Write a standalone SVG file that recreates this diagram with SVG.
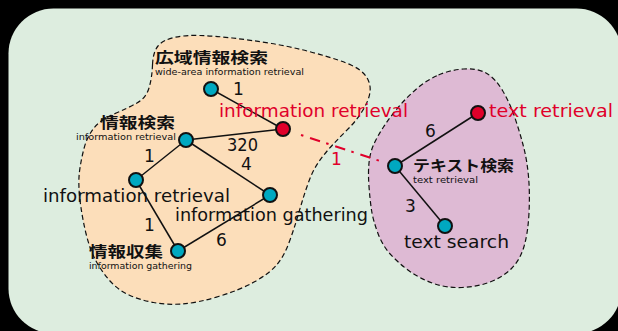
<svg xmlns="http://www.w3.org/2000/svg" width="618" height="331" viewBox="0 0 618 331">
<style>
.lat{font-family:"DejaVu Sans","Liberation Sans",sans-serif;fill:#111}
.big{font-size:17px}
.sm{font-size:9px}
.red{fill:#E0002A}
.jp{font-family:"Noto Sans CJK JP","Noto Sans CJK SC",sans-serif;font-weight:bold;font-size:15px;fill:#111}
.blob{stroke:#111;stroke-width:1.2;stroke-dasharray:5 3}
.edge{stroke:#111;stroke-width:1.5;fill:none}
.node{fill:#00A8C0;stroke:#111;stroke-width:2}
.rnode{fill:#E0002A;stroke:#111;stroke-width:2}
</style>
<rect x="0" y="0" width="618" height="331" fill="#000"/>
<rect x="8.5" y="8.5" width="613" height="325" rx="45" ry="45" fill="#DDEDDF"/>
<g id="cluster-info">
<path class="blob" fill="#FCDEBA" d="M152.5,65 Q153,52 158,46 Q163,40 174,37.5 Q185,35 200,35.5 Q215,36 232.5,38 Q250,40 271.5,43.5 Q293,47 316.5,53.5 Q340,60 351,65 Q362,70 366.5,77 Q371,84 370,92 Q369,100 363,110 Q357,120 348.5,128.5 Q340,137 332.5,145 Q325,153 319,161.5 Q313,170 309,181 Q305,192 302,202 Q299,212 296,222 Q293,232 288.5,244 Q284,256 277,264.5 Q270,273 255,281.5 Q240,290 218.5,296.5 Q197,303 182,304 Q167,305 153.5,302.5 Q140,300 129,295 Q118,290 110,281 Q102,272 96,261 Q90,250 86,233.5 Q82,217 80,200 Q78,183 79.5,171.5 Q81,160 84,148.5 Q87,137 93.5,128.5 Q100,120 114,114 Q128,108 137,103 Q146,98 149,88 Q152,78 152.5,65 Z"/>
</g>
<g id="cluster-text">
<path class="blob" fill="#DEBAD4" d="M438.5,75 Q450,70 463.5,69 Q477,68 486,73 Q495,78 502.5,90.5 Q510,103 515,118 Q520,133 523.5,146.5 Q527,160 528.5,176.5 Q530,193 529,213 Q528,233 524,246.5 Q520,260 511.5,268.5 Q503,277 490,282 Q477,287 462,287.5 Q447,288 435,284 Q423,280 413,273.5 Q403,267 393,257 Q383,247 378,233.5 Q373,220 371.5,210 Q370,200 369,186.5 Q368,173 369,163 Q370,153 373.5,145 Q377,137 383.5,127 Q390,117 398.5,107 Q407,97 417,88.5 Q427,80 438.5,75 Z"/>
</g>
<g id="connectors">
<line class="edge" x1="211" y1="89" x2="283" y2="129"/>
<line class="edge" x1="186" y1="140" x2="283" y2="129"/>
<line class="edge" x1="186" y1="140" x2="136" y2="180"/>
<line class="edge" x1="186" y1="140" x2="270" y2="195"/>
<line class="edge" x1="136" y1="180" x2="178" y2="251"/>
<line class="edge" x1="178" y1="251" x2="270" y2="195"/>
<line class="edge" x1="395" y1="166" x2="478" y2="113"/>
<line class="edge" x1="395" y1="166" x2="445" y2="226"/>
<line x1="297.2" y1="133.7" x2="381.8" y2="161.6" stroke="#E0002A" stroke-width="2" stroke-dasharray="2.5 7 10.5 6.5" stroke-dashoffset="22.5"/>
<text class="lat big" x="233" y="95">1</text>
<text class="lat big" x="227" y="151" textLength="31" lengthAdjust="spacingAndGlyphs">320</text>
<text class="lat big" x="241" y="170">4</text>
<text class="lat big" x="144" y="162">1</text>
<text class="lat big" x="144" y="231">1</text>
<text class="lat big" x="216" y="246">6</text>
<text class="lat big red" x="331" y="165">1</text>
<text class="lat big" x="425" y="137">6</text>
<text class="lat big" x="405" y="212">3</text>
</g>
<g id="n-wide">
<circle class="node" cx="211" cy="89" r="7"/>
<text class="jp" x="155" y="63" textLength="113" lengthAdjust="spacingAndGlyphs">広域情報検索</text>
<text class="lat sm" x="155" y="75" textLength="149" lengthAdjust="spacingAndGlyphs">wide-area information retrieval</text>
</g>
<g id="n-ir-red">
<circle class="rnode" cx="283" cy="129" r="7"/>
<text class="lat big red" x="219" y="117" textLength="189" lengthAdjust="spacingAndGlyphs">information retrieval</text>
</g>
<g id="n-jouhoukensaku">
<circle class="node" cx="186" cy="140" r="7"/>
<text class="jp" x="100" y="128" textLength="75" lengthAdjust="spacingAndGlyphs">情報検索</text>
<text class="lat sm" x="76" y="140" textLength="100" lengthAdjust="spacingAndGlyphs">information retrieval</text>
</g>
<g id="n-ir">
<circle class="node" cx="136" cy="180" r="7"/>
<text class="lat big" x="43" y="202" textLength="187" lengthAdjust="spacingAndGlyphs">information retrieval</text>
</g>
<g id="n-ig">
<circle class="node" cx="270" cy="195" r="7"/>
<text class="lat big" x="175" y="221" textLength="193" lengthAdjust="spacingAndGlyphs">information gathering</text>
</g>
<g id="n-jouhoushuushuu">
<circle class="node" cx="178" cy="251" r="7"/>
<text class="jp" x="89" y="257" textLength="74" lengthAdjust="spacingAndGlyphs">情報収集</text>
<text class="lat sm" x="89" y="269" textLength="103" lengthAdjust="spacingAndGlyphs">information gathering</text>
</g>
<g id="n-textkensaku">
<circle class="node" cx="395" cy="166" r="7"/>
<text class="jp" x="413" y="171" textLength="101" lengthAdjust="spacingAndGlyphs">テキスト検索</text>
<text class="lat sm" x="413" y="183" textLength="65" lengthAdjust="spacingAndGlyphs">text retrieval</text>
</g>
<g id="n-tr-red">
<circle class="rnode" cx="478" cy="113" r="7"/>
<text class="lat big red" x="489" y="117" textLength="124" lengthAdjust="spacingAndGlyphs">text retrieval</text>
</g>
<g id="n-ts">
<circle class="node" cx="445" cy="226" r="7"/>
<text class="lat big" x="404" y="248" textLength="105" lengthAdjust="spacingAndGlyphs">text search</text>
</g>
</svg>
